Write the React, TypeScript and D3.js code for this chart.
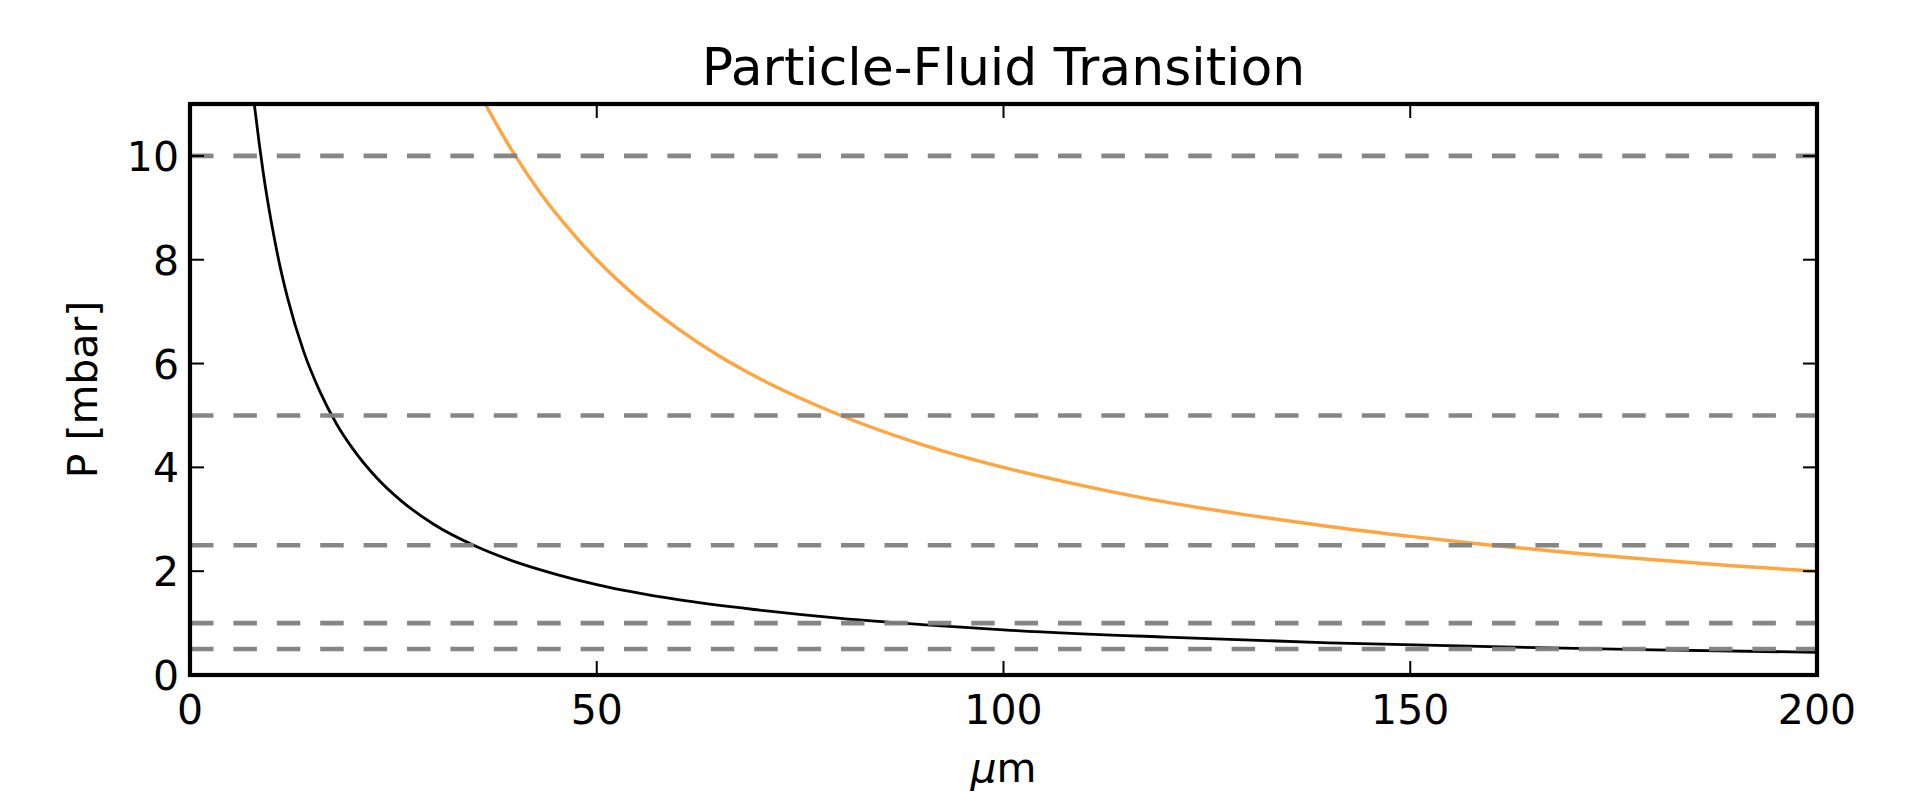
import React, { useEffect, useRef } from "react";
import * as d3 from "d3";

// Transition pressure curves (x in µm, P in mbar)
const BLACK_X = [7.9, 8.5, 9, 10, 11, 12, 14, 16, 18, 20, 23, 26, 30, 35, 40, 45, 50, 60, 70, 80, 90, 100, 120, 140, 160, 180, 200];
const BLACK_P = [11.0, 10.25, 9.68, 8.72, 7.92, 7.26, 6.22, 5.45, 4.84, 4.36, 3.79, 3.35, 2.9, 2.49, 2.18, 1.94, 1.74, 1.45, 1.25, 1.09, 0.97, 0.87, 0.73, 0.62, 0.545, 0.485, 0.437];

const ORANGE_X = [36.3, 38, 40, 43, 46, 50, 55, 60, 65, 70, 80, 90, 100, 110, 120, 130, 140, 150, 160, 170, 180, 190, 200];
const ORANGE_P = [11.0, 10.52, 10.0, 9.3, 8.7, 8.0, 7.27, 6.67, 6.15, 5.71, 5.0, 4.44, 4.0, 3.64, 3.33, 3.08, 2.86, 2.67, 2.5, 2.35, 2.22, 2.1, 2.0];

// Horizontal dashed reference pressures
const REF_P = [10, 5, 2.5, 1, 0.5];

const X_TICKS = [0, 50, 100, 150, 200];
const Y_TICKS = [0, 2, 4, 6, 8, 10];

const TITLE = "Particle-Fluid Transition";

export default function App() {
  const svgRef = useRef<SVGSVGElement | null>(null);

  useEffect(() => {
    const width = 1908;
    const height = 804;
    const margin = { top: 104, right: 91, bottom: 129, left: 190 };
    const innerW = width - margin.left - margin.right;
    const innerH = height - margin.top - margin.bottom;
    const font = "'DejaVu Sans', sans-serif";

    const svg = d3.select(svgRef.current);
    svg.selectAll("*").remove();
    svg.attr("width", width).attr("height", height);

    const g = svg.append("g").attr("transform", `translate(${margin.left},${margin.top})`);

    const x = d3.scaleLinear().domain([0, 200]).range([0, innerW]);
    const y = d3.scaleLinear().domain([0, 11]).range([innerH, 0]);

    g.append("clipPath").attr("id", "plot-clip")
      .append("rect").attr("width", innerW).attr("height", innerH);

    const plot = g.append("g").attr("clip-path", "url(#plot-clip)");

    const line = d3.line<[number, number]>()
      .x(d => x(d[0]))
      .y(d => y(d[1]))
      .curve(d3.curveMonotoneX);

    // Curves
    plot.append("path")
      .datum(BLACK_X.map((v, i) => [v, BLACK_P[i]] as [number, number]))
      .attr("d", line)
      .attr("fill", "none")
      .attr("stroke", "#000")
      .attr("stroke-width", 2.8);

    plot.append("path")
      .datum(ORANGE_X.map((v, i) => [v, ORANGE_P[i]] as [number, number]))
      .attr("d", line)
      .attr("fill", "none")
      .attr("stroke", "#ffa53f")
      .attr("stroke-width", 3.4);

    // Dashed reference lines
    plot.selectAll(".ref")
      .data(REF_P)
      .join("line")
      .attr("x1", 0).attr("x2", innerW)
      .attr("y1", d => y(d)).attr("y2", d => y(d))
      .attr("stroke", "#808080")
      .attr("stroke-opacity", 0.95)
      .attr("stroke-width", 4.6)
      .attr("stroke-dasharray", "23.5,19.9");

    // Ticks on all four sides, pointing inward
    const tickLen = 14;
    g.selectAll(".xt-bottom").data(X_TICKS).join("line")
      .attr("x1", d => x(d)).attr("x2", d => x(d))
      .attr("y1", innerH).attr("y2", innerH - tickLen)
      .attr("stroke", "#000").attr("stroke-width", 2);
    g.selectAll(".xt-top").data(X_TICKS).join("line")
      .attr("x1", d => x(d)).attr("x2", d => x(d))
      .attr("y1", 0).attr("y2", tickLen)
      .attr("stroke", "#000").attr("stroke-width", 2);
    g.selectAll(".yt-left").data(Y_TICKS).join("line")
      .attr("x1", 0).attr("x2", tickLen)
      .attr("y1", d => y(d)).attr("y2", d => y(d))
      .attr("stroke", "#000").attr("stroke-width", 2);
    g.selectAll(".yt-right").data(Y_TICKS).join("line")
      .attr("x1", innerW).attr("x2", innerW - tickLen)
      .attr("y1", d => y(d)).attr("y2", d => y(d))
      .attr("stroke", "#000").attr("stroke-width", 2);

    // Frame
    g.append("rect")
      .attr("width", innerW).attr("height", innerH)
      .attr("fill", "none")
      .attr("stroke", "#000")
      .attr("stroke-width", 4.2);

    // Tick labels
    g.selectAll(".xl").data(X_TICKS).join("text")
      .attr("x", d => x(d))
      .attr("y", innerH + 49)
      .attr("text-anchor", "middle")
      .style("font-family", font).style("font-size", "41px")
      .attr("fill", "#000")
      .text(d => d);

    g.selectAll(".yl").data(Y_TICKS).join("text")
      .attr("x", -11)
      .attr("y", d => y(d) + 15)
      .attr("text-anchor", "end")
      .style("font-family", font).style("font-size", "41px")
      .attr("fill", "#000")
      .text(d => d);

    // Axis labels
    const xLabel = g.append("text")
      .attr("x", innerW / 2)
      .attr("y", innerH + 107)
      .attr("text-anchor", "middle")
      .style("font-family", font).style("font-size", "41px")
      .attr("fill", "#000");
    xLabel.append("tspan").style("font-style", "italic").text("\u03bc");
    xLabel.append("tspan").text("m");

    g.append("text")
      .attr("transform", `translate(${-93},${innerH / 2}) rotate(-90)`)
      .attr("text-anchor", "middle")
      .style("font-family", font).style("font-size", "41px")
      .attr("fill", "#000")
      .text("P [mbar]");

    // Title
    g.append("text")
      .attr("x", innerW / 2)
      .attr("y", -19)
      .attr("text-anchor", "middle")
      .style("font-family", font).style("font-size", "52px")
      .attr("fill", "#000")
      .text(TITLE);
  }, []);

  return (
    <div style={{ position: "absolute", left: 0, top: 0, background: "#fff" }}>
      <svg ref={svgRef} />
    </div>
  );
}
